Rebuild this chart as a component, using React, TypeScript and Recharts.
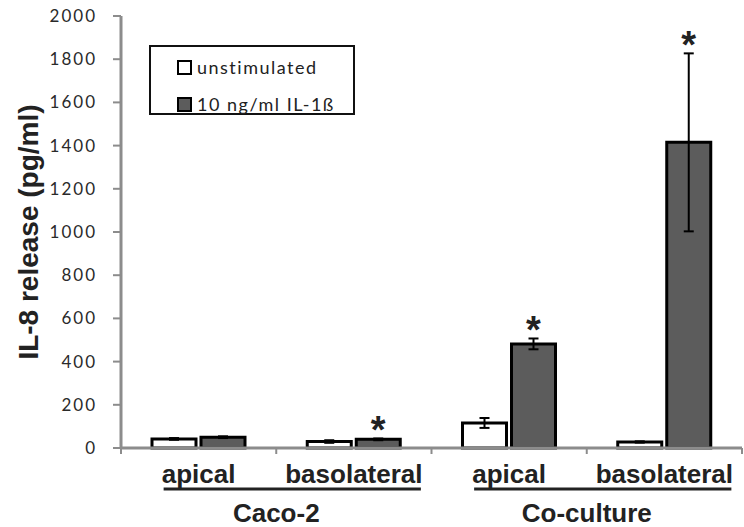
import { BarChart, Bar, XAxis, YAxis, ErrorBar, LabelList } from "recharts";

// IL-8 release per compartment, mean and SD (pg/ml)
const sites = ["apical", "basolateral", "apical", "basolateral"];
const cellModels = ["Caco-2", "Caco-2", "Co-culture", "Co-culture"];
const unstimulated = [42, 30, 116, 28];
const unstimulatedSd = [4, 6, 23, 3];
const il1b = [50, 40, 482, 1415];
const il1bSd = [4, 4, 25, 412];
const significant = [false, true, true, true];
const seriesNames = ["unstimulated", "10 ng/ml IL-1ß"];
const yTicks = [0, 200, 400, 600, 800, 1000, 1200, 1400, 1600, 1800, 2000];

const data = sites.map((site, i) => ({
    site,
    model: cellModels[i],
    unstim: unstimulated[i],
    unstimSd: unstimulatedSd[i],
    il1b: il1b[i],
    il1bSd: il1bSd[i],
}));

const AXIS_GREY = "#8c8c8c";
const DARK_FILL = "#5c5c5c";
const TEXT = "#222";
const bold = "'Liberation Sans', Arial, sans-serif";
const light = "Lato, 'Open Sans', sans-serif";

function SiteTick(props: any) {
    const { x, y, payload, index } = props;
    const half = payload && payload.offset ? payload.offset : 77.6;
    const left = x - half;
    const isFirstOfGroup = index % 2 === 0;

    return (
        <g>
            <line x1={left} x2={left} y1={y} y2={y + 6} stroke={AXIS_GREY} strokeWidth={2} />
            {index === sites.length - 1 && (
                <line x1={x + half} x2={x + half} y1={y} y2={y + 6} stroke={AXIS_GREY} strokeWidth={2} />
            )}
            <text
                x={x}
                y={y + 35}
                textAnchor="middle"
                fontFamily={bold}
                fontWeight="bold"
                fontSize={26}
                fill={TEXT}
            >
                {payload.value}
            </text>
            {isFirstOfGroup && (
                <g>
                    <line
                        x1={x - 35}
                        x2={x + 2 * half + 67}
                        y1={y + 41}
                        y2={y + 41}
                        stroke={TEXT}
                        strokeWidth={3}
                    />
                    <text
                        x={x + half}
                        y={y + 74}
                        textAnchor="middle"
                        fontFamily={bold}
                        fontWeight="bold"
                        fontSize={26}
                        fill={TEXT}
                    >
                        {cellModels[index]}
                    </text>
                </g>
            )}
        </g>
    );
}

function Asterisk(props: any) {
    const { x, y, width, height, value, index } = props;
    if (!significant[index] || !value) return null;
    const pxPerUnit = height / value;
    const errTop = y - il1bSd[index] * pxPerUnit;
    return (
        <text
            x={x + width / 2}
            y={errTop - 12 + 17}
            textAnchor="middle"
            fontFamily={bold}
            fontWeight="bold"
            fontSize={38}
            fill={TEXT}
        >
            *
        </text>
    );
}

function YTitle(props: any) {
    const { viewBox } = props;
    const cx = viewBox.x + 28;
    const cy = viewBox.y + viewBox.height / 2;
    return (
        <text
            x={cx}
            y={cy}
            transform={`rotate(-90 ${cx} ${cy})`}
            textAnchor="middle"
            dominantBaseline="central"
            fontFamily={bold}
            fontWeight="bold"
            fontSize={28}
            fill={TEXT}
        >
            IL-8 release (pg/ml)
        </text>
    );
}

function LegendBox() {
    const fills = ["#ffffff", DARK_FILL];
    return (
        <div
            style={{
                position: "absolute",
                left: 149,
                top: 45,
                width: 206,
                height: 70,
                border: "2px solid #111",
                background: "#fff",
                boxSizing: "border-box",
            }}
        >
            {seriesNames.map((name, i) => (
                <div
                    key={name}
                    style={{
                        position: "absolute",
                        left: 26,
                        top: 9 + i * 37,
                        display: "flex",
                        alignItems: "center",
                        fontFamily: light,
                        fontSize: 18,
                        letterSpacing: 1.5,
                        color: TEXT,
                        whiteSpace: "nowrap",
                    }}
                >
                    <span
                        style={{
                            display: "inline-block",
                            width: 11,
                            height: 11,
                            border: "2px solid #000",
                            background: fills[i],
                            marginRight: 5,
                        }}
                    />
                    {name}
                </div>
            ))}
        </div>
    );
}

export default function App() {
    return (
        <div style={{ position: "absolute", left: 0, top: 0, width: 744, height: 527, background: "#fff" }}>
            <BarChart
                width={744}
                height={527}
                data={data}
                margin={{ top: 16, right: 2, bottom: 0, left: 0 }}
                barCategoryGap="20%"
                barGap={5}
            >
                <XAxis
                    dataKey="site"
                    height={79}
                    axisLine={{ stroke: AXIS_GREY, strokeWidth: 3 }}
                    tickLine={false}
                    tickSize={0}
                    tickMargin={0}
                    interval={0}
                    tick={<SiteTick />}
                />
                <XAxis
                    xAxisId="frame"
                    dataKey="site"
                    orientation="top"
                    height={0}
                    tick={false}
                    tickLine={false}
                    axisLine={{ stroke: "#111", strokeWidth: 2 }}
                />
                <YAxis
                    width={121}
                    domain={[0, 2000]}
                    ticks={yTicks}
                    interval={0}
                    axisLine={{ stroke: AXIS_GREY, strokeWidth: 3 }}
                    tickLine={{ stroke: AXIS_GREY, strokeWidth: 2 }}
                    tickSize={8}
                    tickMargin={16}
                    tick={{ fontFamily: light, fontSize: 17, letterSpacing: 2, fill: "#2a2a2a" }}
                    label={<YTitle />}
                />
                <YAxis
                    yAxisId="frame"
                    orientation="right"
                    width={0}
                    domain={[0, 2000]}
                    tick={false}
                    tickLine={false}
                    axisLine={{ stroke: "#111", strokeWidth: 2 }}
                />
                <Bar
                    dataKey="unstim"
                    name={seriesNames[0]}
                    fill="#ffffff"
                    stroke="#000"
                    strokeWidth={3}
                    barSize={44}
                    isAnimationActive={false}
                >
                    <ErrorBar dataKey="unstimSd" width={5} stroke="#000" strokeWidth={2} direction="y" />
                </Bar>
                <Bar
                    dataKey="il1b"
                    name={seriesNames[1]}
                    fill={DARK_FILL}
                    stroke="#000"
                    strokeWidth={3}
                    barSize={44}
                    isAnimationActive={false}
                >
                    <ErrorBar dataKey="il1bSd" width={5} stroke="#000" strokeWidth={2} direction="y" />
                    <LabelList dataKey="il1b" content={<Asterisk />} />
                </Bar>
            </BarChart>
            <LegendBox />
        </div>
    );
}
